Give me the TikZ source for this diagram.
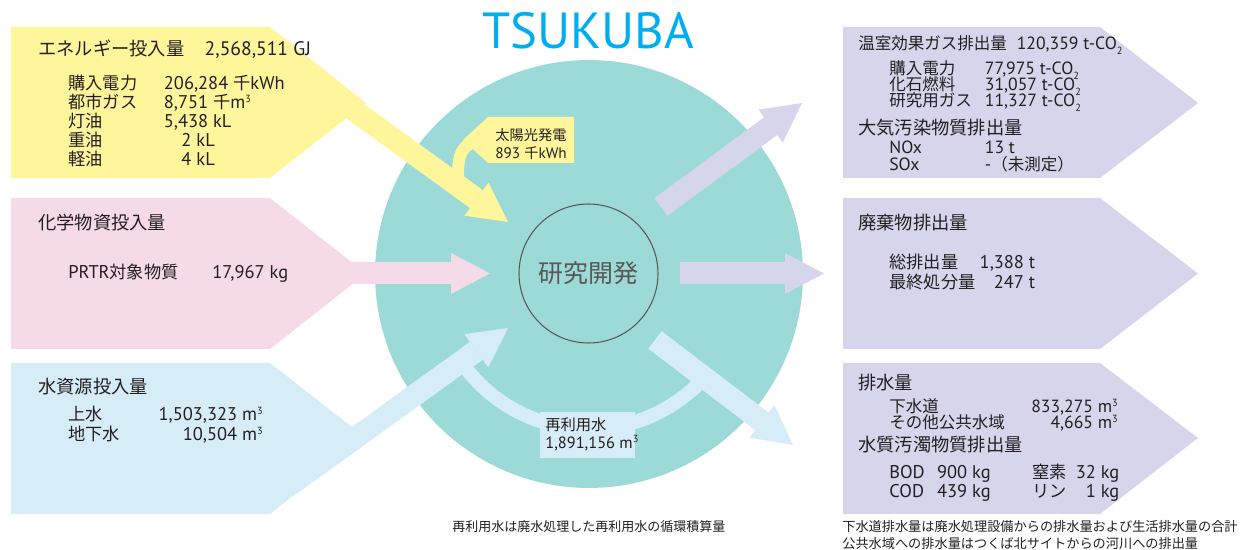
\documentclass[tikz,border=0pt]{standalone}
\usepackage{fontspec}
\setmainfont{PT Sans}[Scale=1.07]
\newfontfamily\jpfont{Noto Sans CJK JP}
\usetikzlibrary{arrows.meta}

% CJK runs in Noto Sans CJK JP, Latin runs in PT Sans
\newcount\cjkchar
\cjkchar="3000
\loop \XeTeXcharclass\cjkchar=1 \advance\cjkchar by 1 \ifnum\cjkchar<"3100 \repeat
\cjkchar="4E00
\loop \XeTeXcharclass\cjkchar=1 \advance\cjkchar by 1 \ifnum\cjkchar<"A000 \repeat
\cjkchar="FF00
\loop \XeTeXcharclass\cjkchar=1 \advance\cjkchar by 1 \ifnum\cjkchar<"FFF0 \repeat
\XeTeXinterchartokenstate=1
\XeTeXinterchartoks 0 1 = {\begingroup\jpfont}
\XeTeXinterchartoks 4095 1 = {\begingroup\jpfont}
\XeTeXinterchartoks 1 0 = {\endgroup}
\XeTeXinterchartoks 1 4095 = {\endgroup}

\definecolor{ink}{HTML}{231F20}
\definecolor{yellowin}{HTML}{FFF59B}
\definecolor{pinkin}{HTML}{F5DAE8}
\definecolor{bluein}{HTML}{D6ECF6}
\definecolor{sitecol}{HTML}{9CDAD8}
\definecolor{emitcol}{HTML}{D5D6EC}
\definecolor{titleblue}{HTML}{00AEEF}
\definecolor{rdgray}{HTML}{595757}

\lineskiplimit=-\maxdimen
\newcommand{\lcell}[2]{\makebox[#1][l]{#2}}
\newcommand{\rcell}[2]{\makebox[#1][r]{#2}}
\newcommand{\hd}{\fontsize{10.4}{12}\selectfont}
\newcommand{\cubic}{\raisebox{0.35em}{\fontsize{5.5}{6}\selectfont 3}}
\newcommand{\cotwo}{t-CO\raisebox{-0.3em}{\fontsize{5.5}{6}\selectfont 2}}

\tikzset{
    flow/.style={line width=0.44cm,-{Triangle[width=0.82cm,length=0.78cm,line width=0pt]}},
    lbl/.style={inner sep=0pt,anchor=west,text=ink,align=left},
}

\begin{document}
\begin{tikzpicture}[x=0.02cm,y=-0.02cm]
    \useasboundingbox (0,0) rectangle (1251,550);

    % site and recycled water
    \node[circle,fill=sitecol,minimum size=8.56cm,inner sep=0pt] (site) at (589,274) {};
    \draw[bluein,line width=0.28cm] ([shift={(38:155)}]site.center) arc[start angle=38,end angle=145,radius=155];

    % inputs
    \fill[yellowin] (11,27) -- (270,27) -- (366,103) -- (270,178) -- (11,178) -- cycle;
    \fill[pinkin] (11,198) -- (270,198) -- (366,273.5) -- (270,349) -- (11,349) -- cycle;
    \fill[bluein] (11,363) -- (270,363) -- (366,438) -- (270,514) -- (11,514) -- cycle;
    \coordinate (eStart) at (330,93);
    \coordinate (eTip) at (508,222);
    \coordinate (cStart) at (330,273.5);
    \coordinate (cTip) at (490,273.5);
    \coordinate (wStart) at (290,485);
    \coordinate (wTip) at (508,328);
    \draw[flow,yellowin] (eStart) -- (eTip);
    \draw[flow,pinkin] (cStart) -- (cTip);
    \draw[flow,bluein] (wStart) -- (wTip);

    % outputs
    \fill[emitcol] (843,27) -- (1100,27) -- (1198,103) -- (1100,178) -- (843,178) -- cycle;
    \fill[emitcol] (843,198) -- (1100,198) -- (1198,273.5) -- (1100,349) -- (843,349) -- cycle;
    \fill[emitcol] (843,363) -- (1100,363) -- (1198,438) -- (1100,514) -- (843,514) -- cycle;
    \coordinate (gStart) at (661,207);
    \coordinate (gTip) at (802,103);
    \coordinate (dStart) at (680,273.5);
    \coordinate (dTip) at (824,273.5);
    \coordinate (sStart) at (655,340);
    \coordinate (sTip) at (793,445);
    \draw[flow,emitcol] (gStart) -- (gTip);
    \draw[flow,emitcol] (dStart) -- (dTip);
    \draw[flow,bluein] (sStart) -- (sTip);

    % solar power and reuse labels
    \fill[yellowin] (488,117) -- (574,117) -- (574,163) -- (488,163) -- (463,140) -- cycle;
    \draw[yellowin,line width=0.24cm] (472,143) to[out=200,in=90] (458,178);
    \node[lbl,font=\fontsize{8.1}{10.2}\selectfont] (sun) at (495,144) {太陽光発電\\893 千kWh};
    \fill[bluein] (540,412) rectangle (635,458);
    \node[lbl,font=\fontsize{8.7}{10.2}\selectfont] (reuse) at (545,434) {再利用水\\1,891,156 m\cubic};

    \node[circle,draw=rdgray,line width=0.6pt,minimum size=2.78cm,inner sep=0pt,
          font=\fontsize{14.2}{16}\selectfont,text=rdgray] (rd) at (588.5,273.5) {研究開発};
    \node[anchor=base,inner sep=0pt,text=titleblue,font=\fontsize{27}{29}\selectfont] (tsukuba) at (588.5,49) {TSUKUBA};

    % input texts
    \node[lbl,font=\hd] (eHead) at (38,49) {\lcell{94.7pt}{エネルギー投入量}2,568,511 GJ};
    \node[lbl,font=\fontsize{9.8}{10.8}\selectfont] (eList) at (68,121)
        {\lcell{54.4pt}{購入電力}206,284 千kWh\\
         \lcell{54.4pt}{都市ガス}8,751 千m\cubic\\
         \lcell{54.4pt}{灯油}5,438 kL\\
         \lcell{54.4pt}{重油}\hspace{10pt}2 kL\\
         \lcell{54.4pt}{軽油}\hspace{10pt}4 kL};
    \node[lbl,font=\hd] (cHead) at (38,223) {化学物資投入量};
    \node[lbl,font=\fontsize{9.8}{10.8}\selectfont] (cList) at (68,273) {\lcell{82pt}{PRTR対象物質}17,967 kg};
    \node[lbl,font=\hd] (wHead) at (38,387) {水資源投入量};
    \node[lbl,font=\fontsize{9.8}{11.3}\selectfont] (wList) at (68,425)
        {\lcell{55pt}{上水}\rcell{55.6pt}{1,503,323 m\cubic}\\
         \lcell{55pt}{地下水}\rcell{55.6pt}{10,504 m\cubic}};

    % output texts
    \node[lbl,font=\fontsize{9.4}{11}\selectfont] (gHead) at (858,45) {\lcell{90.2pt}{温室効果ガス排出量}120,359 \cotwo};
    \node[lbl,font=\fontsize{9.4}{9}\selectfont] (gList) at (889,86)
        {\lcell{54.4pt}{購入電力}77,975 \cotwo\\
         \lcell{54.4pt}{化石燃料}31,057 \cotwo\\
         \lcell{54.4pt}{研究用ガス}11,327 \cotwo};
    \node[lbl,font=\hd] (aHead) at (858,128) {大気汚染物質排出量};
    \node[lbl,font=\fontsize{9.4}{9.8}\selectfont] (aList) at (889,156.5)
        {\lcell{54.4pt}{NOx}13 t\\
         \lcell{54.4pt}{SOx}-（未測定）};
    \node[lbl,font=\hd] (dHead) at (858,223) {廃棄物排出量};
    \node[lbl,font=\fontsize{9.8}{11.3}\selectfont] (dList) at (889,272)
        {\lcell{55pt}{総排出量}\rcell{28pt}{1,388 t}\\
         \lcell{55pt}{最終処分量}\rcell{28pt}{247 t}};
    \node[lbl,font=\hd] (sHead) at (858,383) {排水量};
    \node[lbl,font=\fontsize{9.4}{9.4}\selectfont] (sList) at (889,415)
        {\lcell{76pt}{下水道}\rcell{54pt}{833,275 m\cubic}\\
         \lcell{76pt}{その他公共水域}\rcell{54pt}{4,665 m\cubic}};
    \node[lbl,font=\hd] (qHead) at (858,445) {水質汚濁物質排出量};
    \node[lbl,font=\fontsize{9.8}{10.8}\selectfont] (qList) at (889,482.5)
        {\lcell{27.2pt}{BOD}\lcell{54.4pt}{900 kg}\lcell{27.8pt}{窒素}\rcell{21.5pt}{32 kg}\\
         \lcell{27.2pt}{COD}\lcell{54.4pt}{439 kg}\lcell{27.8pt}{リン}\rcell{21.5pt}{1 kg}};

    % notes
    \node[lbl,font=\fontsize{7.4}{9}\selectfont] (reuseNote) at (452,527) {再利用水は廃水処理した再利用水の循環積算量};
    \node[lbl,font=\fontsize{7.5}{9.6}\selectfont] (drainNote) at (842,535)
        {下水道排水量は廃水処理設備からの排水量および生活排水量の合計\\
         公共水域への排水量はつくば北サイトからの河川への排出量};
\end{tikzpicture}
\end{document}
